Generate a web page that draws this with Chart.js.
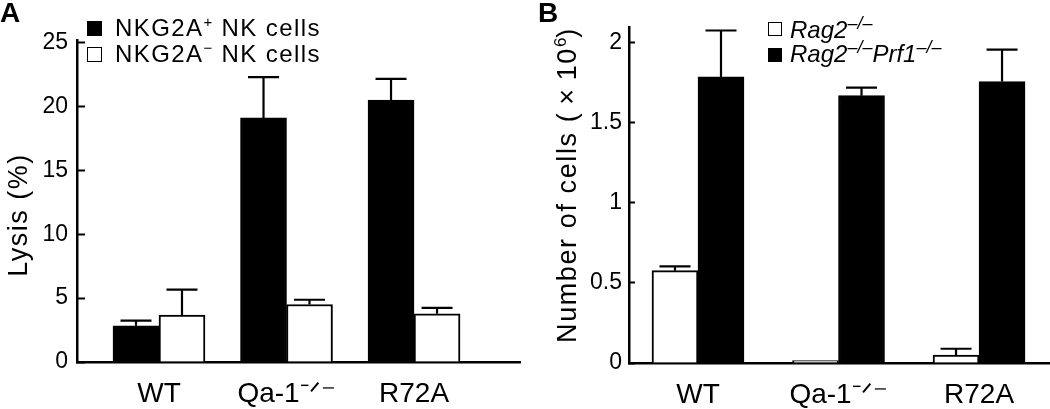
<!DOCTYPE html>
<html><head><meta charset="utf-8">
<script src="https://cdn.jsdelivr.net/npm/chart.js@4.4.0/dist/chart.umd.min.js"></script>
<style>
html,body{margin:0;padding:0;background:#fff;}
body{width:1050px;height:409px;position:relative;overflow:hidden;font-family:"Liberation Sans",Arial,sans-serif;color:#000;}
.box{position:absolute;top:0;height:409px;width:525px;}
.t{position:absolute;white-space:nowrap;line-height:1;}
.sq{position:absolute;box-sizing:border-box;border:1.5px solid #000;}
.rot{position:absolute;white-space:nowrap;line-height:1;transform:translate(-50%,-50%) rotate(-90deg);}
</style></head><body>
<div class="box" style="left:0"><canvas id="cA"></canvas></div>
<div class="box" style="left:525px"><canvas id="cB"></canvas></div>

<div class="t" style="left:0;top:-1px;font-size:28px;font-weight:bold;">A</div>
<div class="t" style="left:538px;top:-1px;font-size:28px;font-weight:bold;">B</div>

<div class="rot" style="left:18px;top:215px;font-size:27px;letter-spacing:1.5px;">Lysis (%)</div>
<div class="rot" style="left:567px;top:185px;font-size:27px;letter-spacing:1.6px;">Number of cells (&#8201;×&#8201;10<span style="font-size:17px;position:relative;top:-10px;letter-spacing:0">6</span>)</div>

<div id="legA"></div>
<div id="legB"></div>

<script>
// ---------- data ----------
const categories = ['WT', 'Qa-1\u207B\u141F\u207B', 'R72A'];

// Panel A: lysis (%)
const nkPosLabel = 'NKG2A+ NK cells';
const nkNegLabel = 'NKG2A\u2212 NK cells';
const nkPos    = [2.84, 19.1, 20.5];
const nkPosErr = [0.4, 3.2, 1.65];
const nkNeg    = [3.67, 4.5, 3.77];
const nkNegErr = [2.0, 0.37, 0.47];
const yTicksA  = [0, 5, 10, 15, 20, 25];
const yTickLabelsA = ['0', '5', '10', '15', '20', '25'];

// Panel B: number of cells (x10^6)
const rag2Label     = 'Rag2\u2212/\u2212';
const rag2PrfLabel  = 'Rag2\u2212/\u2212Prf1\u2212/\u2212';
const rag2          = [0.577, 0.015, 0.049];
const rag2Err       = [0.026, 0, 0.04];
const rag2Prf       = [1.787, 1.67, 1.758];
const rag2PrfErr    = [0.29, 0.05, 0.2];
const yTicksB       = [0, 0.5, 1, 1.5, 2];
const yTickLabelsB  = ['0', '0.5', '1', '1.5', '2'];

// ---------- helpers ----------
const toPts = arr => arr.map((v, i) => ({x: i + 1, y: v}));

const errorBars = {
  id: 'errorBars',
  afterDatasetsDraw(chart, args, opts) {
    const ctx = chart.ctx, ys = chart.scales.y;
    chart.data.datasets.forEach((ds, di) => {
      if (!ds.errors) return;
      const meta = chart.getDatasetMeta(di);
      meta.data.forEach((bar, i) => {
        const e = ds.errors[i];
        if (!e) return;
        const top = ys.getPixelForValue(ds.data[i].y + e);
        ctx.save();
        ctx.strokeStyle = '#000';
        ctx.lineWidth = opts.lineWidth || 2;
        ctx.beginPath();
        ctx.moveTo(bar.x, bar.y);
        ctx.lineTo(bar.x, top);
        ctx.moveTo(bar.x - opts.cap / 2, top);
        ctx.lineTo(bar.x + opts.cap / 2, top);
        ctx.stroke();
        ctx.restore();
      });
    });
  }
};

function makeChart(id, cfg) {
  const mkDs = (label, vals, errs, fill) => ({
    label, data: toPts(vals), errors: errs,
    backgroundColor: fill, borderColor: '#000', borderWidth: 2,
    borderSkipped: 'bottom', barThickness: 46
  });
  return new Chart(document.getElementById(id), {
    type: 'bar',
    data: { datasets: cfg.series.map(s => mkDs(s.label, s.vals, s.errs, s.fill)) },
    options: {
      responsive: true, maintainAspectRatio: false, animation: false,
      devicePixelRatio: 1,
      layout: { padding: cfg.padding },
      plugins: {
        legend: { display: false }, tooltip: { enabled: false },
        errorBars: { cap: 31, lineWidth: 2.2 }
      },
      scales: {
        x: {
          type: 'linear', min: cfg.xmin, max: cfg.xmax, offset: false,
          afterBuildTicks: s => { s.ticks = categories.map((c, i) => ({value: i + 1})); },
          afterFit: s => { s.height = cfg.xHeight; },
          grid: { display: false, drawTicks: false },
          border: { display: true, color: '#000', width: 2.5 },
          ticks: {
            callback: v => categories[v - 1],
            font: { family: '"Liberation Sans", Arial, sans-serif', size: 28 },
            color: '#000', padding: 15, maxRotation: 0, autoSkip: false
          }
        },
        y: {
          min: 0, max: cfg.ymax,
          afterBuildTicks: s => { s.ticks = cfg.yTicks.map(v => ({value: v})); },
          afterFit: s => { s.width = cfg.yWidth; },
          grid: { drawOnChartArea: false, drawTicks: true, tickLength: -cfg.tickLen, tickWidth: 2, tickColor: '#000' },
          border: { display: true, color: '#000', width: 2.5 },
          ticks: {
            callback: (v, i) => cfg.yLabels[i],
            font: { family: '"Liberation Sans", Arial, sans-serif', size: 23 },
            color: '#000', padding: cfg.tickPad
          }
        }
      }
    },
    plugins: [errorBars]
  });
}

makeChart('cA', {
  series: [
    { label: nkPosLabel, vals: nkPos, errs: nkPosErr, fill: '#000' },
    { label: nkNegLabel, vals: nkNeg, errs: nkNegErr, fill: '#fff' }
  ],
  padding: { top: 40, right: 5, left: 0, bottom: 0 },
  xmin: 0.357, xmax: 3.831, xHeight: 47,
  ymax: 25.2, yTicks: yTicksA, yLabels: yTickLabelsA, yWidth: 77, tickLen: 8, tickPad: 17
});

makeChart('cB', {
  series: [
    { label: rag2Label, vals: rag2, errs: rag2Err, fill: '#fff' },
    { label: rag2PrfLabel, vals: rag2Prf, errs: rag2PrfErr, fill: '#000' }
  ],
  padding: { top: 22, right: 0, left: 0, bottom: 0 },
  xmin: 0.509, xmax: 3.505, xHeight: 46,
  ymax: 2.1, yTicks: yTicksB, yLabels: yTickLabelsB, yWidth: 104, tickLen: 6, tickPad: 13
});

// ---------- HTML legends (rich text: superscripts / italics) ----------
const legA = [
  { fill: '#000', sqTop: 21, txtTop: 16, html: 'NKG2A<span style="font-size:15px;position:relative;top:-9px">+</span> NK cells' },
  { fill: '#fff', sqTop: 47, txtTop: 42, html: 'NKG2A<span style="font-size:15px;position:relative;top:-9px">\u2212</span> NK cells' }
];
const legB = [
  { fill: '#fff', sqTop: 22, txtTop: 17.7, html: 'Rag2<span style="font-size:18px;position:relative;top:-9px">\u2013/\u2013</span>' },
  { fill: '#000', sqTop: 48, txtTop: 41.7, html: 'Rag2<span style="font-size:18px;position:relative;top:-9px">\u2013/\u2013</span>Prf1<span style="font-size:18px;position:relative;top:-9px">\u2013/\u2013</span>' }
];
function buildLegend(el, items, sqLeft, sqSize, txtLeft, style) {
  el.innerHTML = items.map(it =>
    `<div class="sq" style="left:${sqLeft}px;top:${it.sqTop}px;width:${sqSize}px;height:${sqSize}px;background:${it.fill}"></div>` +
    `<div class="t" style="left:${txtLeft}px;top:${it.txtTop}px;${style}">${it.html}</div>`
  ).join('');
}
buildLegend(document.getElementById('legA'), legA, 87, 15, 115, 'font-size:24px;letter-spacing:1.4px;');
buildLegend(document.getElementById('legB'), legB, 768, 14, 790, 'font-size:24px;font-style:italic;');
</script>
</body></html>
